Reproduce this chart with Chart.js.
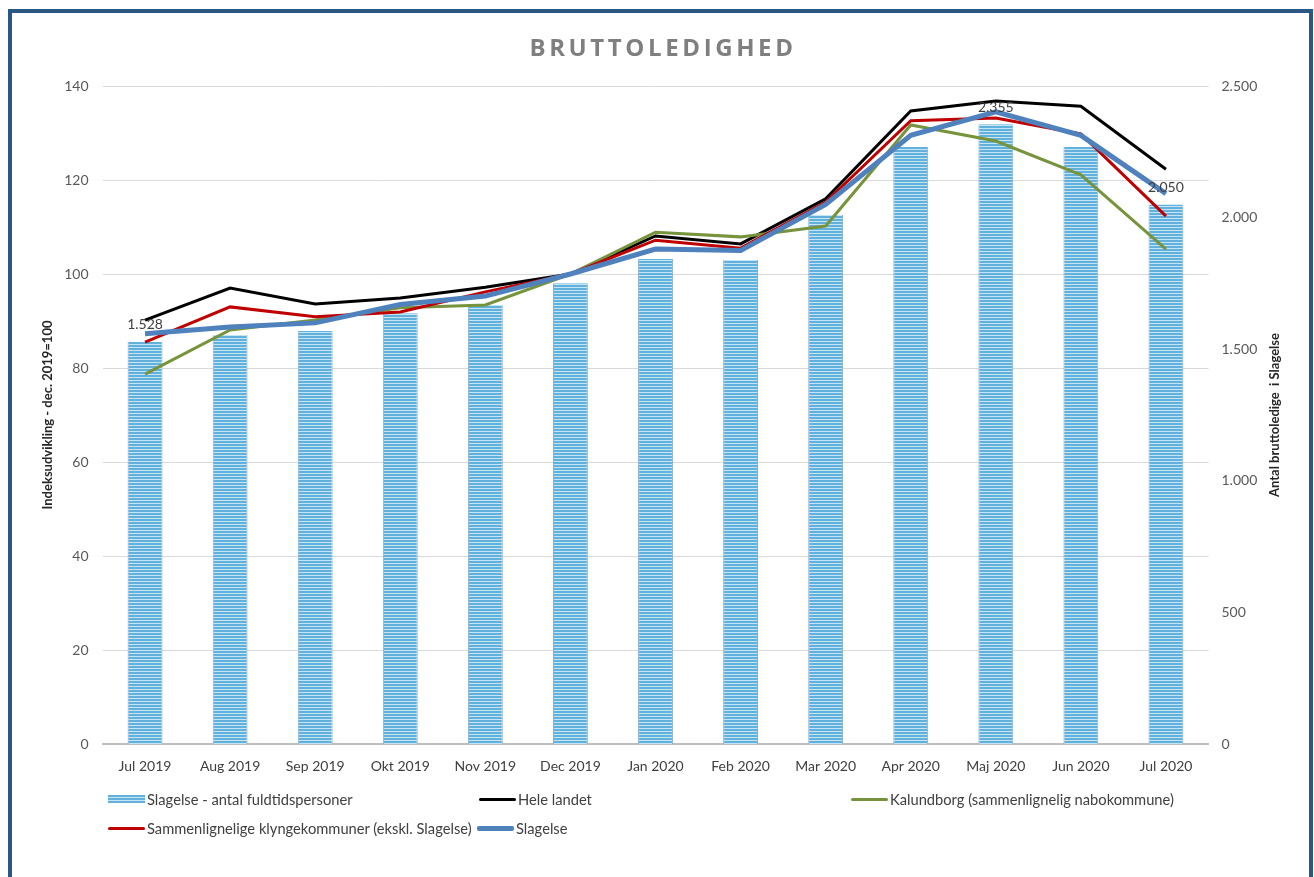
<!DOCTYPE html>
<html>
<head>
<meta charset="utf-8">
<title>Bruttoledighed</title>
<script src="https://cdn.jsdelivr.net/npm/chart.js@4/dist/chart.umd.min.js"></script>
<style>
  body { margin: 0; background: #fff; overflow: hidden; font-family: Lato, sans-serif; }
  #frame { position: absolute; left: 8px; top: 9px; width: 1297px; height: 900px; border: 4px solid #2b5784; }
  #chart { position: absolute; left: 0; top: 0; }
  #title { position: absolute; left: 0; width: 1326px; top: 30px; text-align: center;
           font: bold 24px "Open Sans", sans-serif; letter-spacing: 3.6px; color: #7f7f7f; }
  .leg { position: absolute; font-size: 14.7px; color: #404040; white-space: nowrap; display: flex; align-items: center; }
  .leg i { display: inline-block; width: 37px; margin-right: 2px; }
</style>
</head>
<body>
<div id="frame"></div>
<canvas id="chart" width="1314" height="877"></canvas>
<div id="title">BRUTTOLEDIGHED</div>
<div id="legend"></div>
<script>
const months = ['Jul 2019', 'Aug 2019', 'Sep 2019', 'Okt 2019', 'Nov 2019', 'Dec 2019', 'Jan 2020',
    'Feb 2020', 'Mar 2020', 'Apr 2020', 'Maj 2020', 'Jun 2020', 'Jul 2020'];

// antal fuldtidspersoner (right axis)
const slagelseAntal = [1528, 1554, 1569, 1637, 1668, 1751, 1843, 1839, 2010, 2268, 2355, 2268, 2050];
// index, dec. 2019 = 100 (left axis)
const heleLandet = [90.2, 97.0, 93.6, 94.9, 97.2, 100, 108.1, 106.4, 116.0, 134.7, 136.8, 135.7, 122.3];
const klynge = [85.5, 93.0, 90.9, 91.9, 96.2, 100, 107.2, 105.5, 115.3, 132.6, 133.2, 129.8, 112.3];
const kalundborg = [78.7, 88.1, 90.2, 92.8, 93.4, 100, 108.9, 107.9, 110.2, 131.7, 128.3, 121.1, 105.3];
const slagelseIndeks = [87.3, 88.7, 89.6, 93.5, 95.3, 100, 105.3, 105.0, 114.8, 129.5, 134.5, 129.5, 117.1];

const labelledBars = [0, 10, 12];

function fmt(v) {
    return String(v).replace(/\B(?=(\d{3})+(?!\d))/g, '.');
}

function stripePattern() {
    const c = document.createElement('canvas');
    c.width = 4; c.height = 3;
    const g = c.getContext('2d');
    g.fillStyle = '#c4e5f4';
    g.fillRect(0, 0, 4, 3);
    g.fillStyle = '#62b1dc';
    g.fillRect(0, 0, 4, 2);
    return g.createPattern(c, 'repeat');
}

const stripes = stripePattern();

const extraText = {
    id: 'extraText',
    afterDatasetsDraw(chart) {
        const ctx = chart.ctx;
        const meta = chart.getDatasetMeta(0);
        ctx.save();
        ctx.font = '14px Lato';
        ctx.fillStyle = '#404040';
        ctx.textAlign = 'center';
        ctx.textBaseline = 'middle';
        labelledBars.forEach(i => {
            const el = meta.data[i];
            ctx.fillText(fmt(slagelseAntal[i]), el.x, el.y - 17);
        });
        ctx.restore();
    },
    afterDraw(chart) {
        const ctx = chart.ctx;
        const a = chart.chartArea;
        const mid = (a.top + a.bottom) / 2;
        ctx.save();
        ctx.font = 'bold 13px "Liberation Sans Narrow", Lato';
        ctx.fillStyle = '#262626';
        ctx.textAlign = 'center';
        ctx.textBaseline = 'middle';
        [[a.left - 55, 'Indeksudvikling - dec. 2019=100'], [a.right + 66, 'Antal bruttoledige  i Slagelse']]
            .forEach(([x, t]) => {
                ctx.save();
                ctx.translate(x, mid);
                ctx.rotate(-Math.PI / 2);
                ctx.fillText(t, 0, 0);
                ctx.restore();
            });
        ctx.restore();
    }
};

const datasets = [
    {
        type: 'bar', label: 'Slagelse - antal fuldtidspersoner', data: slagelseAntal, yAxisID: 'y1',
        backgroundColor: stripes, borderColor: '#8aaed3', borderWidth: { left: 1, right: 1, top: 0, bottom: 0 },
        barPercentage: 0.41, categoryPercentage: 1, order: 5
    },
    { type: 'line', label: 'Hele landet', data: heleLandet, yAxisID: 'y', borderColor: '#000000', borderWidth: 3, order: 4 },
    { type: 'line', label: 'Kalundborg (sammenlignelig nabokommune)', data: kalundborg, yAxisID: 'y', borderColor: '#77933c', borderWidth: 3, order: 3 },
    { type: 'line', label: 'Sammenlignelige klyngekommuner (ekskl. Slagelse)', data: klynge, yAxisID: 'y', borderColor: '#c00000', borderWidth: 3, order: 2 },
    { type: 'line', label: 'Slagelse', data: slagelseIndeks, yAxisID: 'y', borderColor: '#4f81bd', borderWidth: 5, order: 1 }
];
datasets.forEach(d => { if (d.type === 'line') { d.pointRadius = 0; d.tension = 0; d.fill = false; } });

Chart.defaults.font.family = 'Lato';
Chart.defaults.font.size = 14;
Chart.defaults.color = '#404040';

new Chart(document.getElementById('chart'), {
    type: 'bar',
    data: { labels: months, datasets: datasets },
    options: {
        responsive: false,
        animation: false,
        devicePixelRatio: 1,
        layout: { padding: { top: 86, bottom: 93, left: 0, right: 0 } },
        plugins: { legend: { display: false }, tooltip: { enabled: false } },
        scales: {
            x: {
                grid: { display: false, drawTicks: false },
                border: { color: '#bfbfbf', width: 2 },
                ticks: { padding: 14, color: '#404040' },
                afterFit: s => { s.height = 40; }
            },
            y: {
                position: 'left', min: 0, max: 140,
                ticks: { stepSize: 20, padding: 14, color: '#595959' },
                grid: { color: '#d9d9d9', drawTicks: false },
                border: { display: false },
                afterFit: s => { s.width = 102.5; }
            },
            y1: {
                position: 'right', min: 0, max: 2500,
                ticks: { stepSize: 500, padding: 13, color: '#595959', callback: v => fmt(v) },
                grid: { display: false, drawTicks: false },
                border: { display: false },
                afterFit: s => { s.width = 105.5; }
            }
        }
    },
    plugins: [extraText]
});

// legend laid out like the original, two rows
const legendPos = [[108, 790], [479, 790], [851, 790], [108, 819], [477, 819]];
const legendBox = document.getElementById('legend');
datasets.forEach((d, k) => {
    const item = document.createElement('div');
    item.className = 'leg';
    item.style.left = legendPos[k][0] + 'px';
    item.style.top = legendPos[k][1] + 'px';
    const sym = document.createElement('i');
    if (d.type === 'bar') {
        sym.style.height = '8px';
        sym.style.background = 'repeating-linear-gradient(#62b1dc 0 2px, #c4e5f4 2px 3px)';
    } else {
        sym.style.height = d.borderWidth + 'px';
        sym.style.background = d.borderColor;
        sym.style.borderRadius = '2px';
    }
    item.appendChild(sym);
    item.appendChild(document.createTextNode(d.label));
    legendBox.appendChild(item);
});
</script>
</body>
</html>
